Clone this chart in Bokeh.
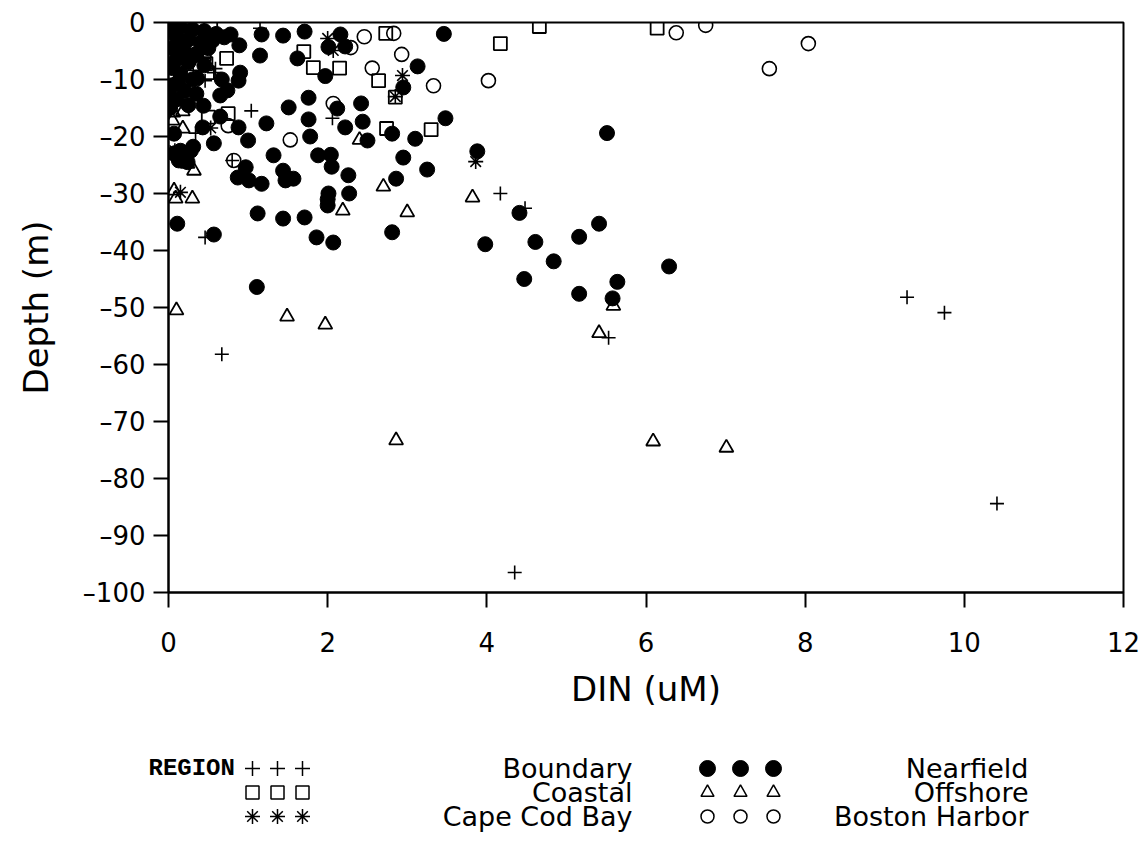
from bokeh.plotting import figure
from bokeh.layouts import column, row
from bokeh.models import Range1d, FixedTicker
from bokeh.core.properties import value
from bokeh.embed import file_html
from bokeh.resources import INLINE

# ---------------- data (DIN uM, depth m) ----------------
boundary_x = [1.15, 0.44, 0.57, 0.31, 0.46, 1.04, 2.06, 0.34, 0.80, 0.06, 4.17, 4.48, 0.46, 0.67, 5.53, 4.35, 9.28, 9.75, 10.41, 0.59]
boundary_y = [-1.0, -6.3, -8.8, -8.4, -10.2, -15.5, -16.8, -19.4, -24.2, -22.8, -30.0, -32.6, -37.7, -58.2, -55.3, -96.5, -48.2, -50.9, -84.4, -8.1]

coastal_x = [0.53, 0.73, 0.49, 0.50, 0.75, 1.70, 1.82, 2.15, 2.73, 2.64, 2.85, 2.74, 3.30, 4.17, 4.66, 6.14, 0.02, 0.45, 0.47, 0.10]
coastal_y = [-0.6, -6.3, -8.8, -16.6, -16.0, -5.1, -7.9, -8.0, -1.9, -10.2, -13.1, -18.6, -18.8, -3.7, -0.7, -1.0, -6.0, -5.5, -7.2, -12.0]

capecod_x = [2.00, 2.07, 2.94, 2.85, 3.86, 0.53, 0.15, 0.08]
capecod_y = [-2.8, -4.9, -9.3, -13.0, -24.4, -18.5, -29.8, -22.5]

harbor_x = [6.38, 6.75, 8.04, 7.55, 4.02, 2.83, 2.29, 2.46, 2.93, 2.56, 3.33, 2.07, 1.53, 0.82, 0.75]
harbor_y = [-1.8, -0.5, -3.7, -8.1, -10.2, -1.9, -4.4, -2.5, -5.6, -8.0, -11.1, -14.2, -20.6, -24.2, -18.1]

offshore_x = [0.10, 1.49, 1.97, 2.86, 6.09, 7.01, 5.59, 5.41, 3.82, 3.00, 2.19, 2.70, 2.40, 0.09, 0.30, 0.07, 0.05, 0.18, 0.18, 0.06, 0.32, 0.24]
offshore_y = [-50.5, -51.6, -53.0, -73.3, -73.5, -74.6, -49.7, -54.5, -30.7, -33.3, -33.0, -28.8, -20.6, -30.9, -30.9, -29.5, -17.2, -18.6, -15.6, -15.8, -26.0, -24.8]

nearfield_x = [0.78, 0.89, 1.17, 1.15, 1.44, 1.71, 2.16, 2.01, 2.22, 1.62, 1.97, 3.46, 3.13, 2.95, 3.48,
               0.90, 0.88, 0.67, 0.36, 0.74, 0.65, 0.44, 0.65, 0.88, 0.43, 0.57, 1.00, 1.23, 1.51, 1.76,
               1.76, 1.78, 2.12, 2.22, 2.42, 2.44, 2.50, 2.81, 3.10, 2.95, 3.25, 2.86, 2.26, 2.27, 2.01,
               1.88, 2.04, 2.05, 1.32, 1.44, 1.57, 1.47, 1.17, 1.01, 0.87, 0.97, 0.15, 0.28, 0.31, 0.13,
               0.24, 0.11, 0.57, 1.12, 1.44, 1.71, 2.00, 2.00, 1.86, 2.07, 2.81, 1.11,
               4.41, 3.98, 4.61, 5.16, 5.41, 4.84, 4.47, 5.16, 5.64, 5.58, 6.29, 5.51, 3.88, 0.07, 0.07,
               0.05, 0.15, 0.30, 0.45, 0.60, 0.10, 0.25, 0.40, 0.05, 0.20, 0.35, 0.50, 0.10, 0.25, 0.05,
               0.15, 0.30, 0.05, 0.20, 0.35, 0.10, 0.25, 0.02, 0.55, 0.70, 0.12, 0.00, 0.45, 0.30, 0.18]
nearfield_y = [-2.1, -4.0, -2.1, -5.8, -2.3, -1.6, -2.1, -4.3, -4.2, -6.3, -9.4, -2.0, -7.7, -11.4, -16.8,
               -8.8, -10.2, -10.0, -9.8, -11.9, -12.8, -14.6, -16.5, -18.4, -18.4, -21.2, -20.7, -17.7, -14.9, -13.2,
               -17.0, -20.0, -15.1, -18.4, -14.2, -17.4, -20.7, -19.5, -20.4, -23.7, -25.8, -27.4, -26.8, -30.0, -30.0,
               -23.3, -23.2, -25.3, -23.3, -26.0, -27.4, -27.7, -28.3, -27.7, -27.2, -25.4, -22.5, -22.5, -21.8, -24.2,
               -24.5, -35.3, -37.2, -33.5, -34.4, -34.2, -32.1, -31.0, -37.7, -38.6, -36.8, -46.4,
               -33.4, -38.9, -38.5, -37.6, -35.3, -41.9, -45.0, -47.6, -45.5, -48.4, -42.8, -19.4, -22.6, -19.5, -23.0,
               -1.0, -0.8, -1.2, -1.5, -2.0, -2.5, -3.0, -3.5, -4.5, -5.0, -5.5, -4.5, -6.5, -7.0, -8.0,
               -9.0, -10.0, -11.0, -12.0, -12.5, -13.5, -14.5, -15.0, -3.2, -2.6, -10.5, -12.5, -7.5, -6.0, -3.8]

x_ticks = [0, 2, 4, 6, 8, 10, 12]
y_ticks = [0, -10, -20, -30, -40, -50, -60, -70, -80, -90, -100]

legend_left = ["Boundary", "Coastal", "Cape Cod Bay"]
legend_right = ["Nearfield", "Offshore", "Boston Harbor"]

FONT = "DejaVu Sans"
L, R = 168, 25

# ---------------- main plot ----------------
p = figure(width=1148, height=720, output_backend="svg", toolbar_location=None,
           x_range=Range1d(0, 12), y_range=Range1d(-100, 0),
           min_border_left=L, min_border_right=R, min_border_top=22, min_border_bottom=128)
p.grid.visible = False
p.outline_line_color = "black"
p.outline_line_width = 2

for ax in (p.xaxis[0], p.yaxis[0]):
    ax.axis_line_width = 2
    ax.major_tick_line_width = 2
    ax.major_tick_out = 15
    ax.major_tick_in = 0
    ax.minor_tick_line_color = None
    ax.major_label_text_font = FONT
    ax.major_label_text_font_size = "26px"
    ax.major_label_text_color = "black"
    ax.axis_label_text_font = FONT
    ax.axis_label_text_font_size = "34px"
    ax.axis_label_text_font_style = "normal"
    ax.axis_label_text_color = "black"

p.xaxis.ticker = FixedTicker(ticks=x_ticks)
p.yaxis.ticker = FixedTicker(ticks=y_ticks)
p.xaxis.major_label_overrides = {t: str(t) for t in x_ticks}
p.yaxis.major_label_overrides = {t: ("\u2013" + str(-t) if t < 0 else str(t)) for t in y_ticks}
p.xaxis.axis_label = "DIN (uM)"
p.yaxis.axis_label = "Depth (m)"
p.xaxis.major_label_standoff = 24
p.yaxis.major_label_standoff = 8
p.xaxis.axis_label_standoff = 14
p.yaxis.axis_label_standoff = 24

p.scatter(nearfield_x, nearfield_y, marker="circle", size=15, fill_color="black", line_color="black")
p.scatter(boundary_x, boundary_y, marker="cross", size=14, line_color="black", line_width=1.6)
p.scatter(coastal_x, coastal_y, marker="square", size=13, fill_alpha=0.0, line_color="black", line_width=1.8)
p.scatter(capecod_x, capecod_y, marker="asterisk", size=15, line_color="black", line_width=1.6)
p.scatter(harbor_x, harbor_y, marker="circle", size=14, fill_alpha=0.0, line_color="black", line_width=1.6)
p.scatter(offshore_x, offshore_y, marker="triangle", size=14, fill_alpha=0.0, line_color="black", line_width=1.8)

# ---------------- legend panel (x in page pixels) ----------------
lg = figure(width=1148, height=131, output_backend="svg", toolbar_location=None,
            x_range=Range1d(0, 1148), y_range=Range1d(131, 0),
            min_border=0)
lg.axis.visible = False
lg.grid.visible = False
lg.outline_line_color = None

rows = [48, 72, 96]
lg.text(x=[148], y=[rows[0]], text=["REGION"], text_font=value("Liberation Mono"),
        text_font_style="bold", text_font_size="24px", text_baseline="middle", text_align="left")

sym_left = [252, 277, 302]
sym_right = [707, 740, 773]
left_markers = ["cross", "square", "asterisk"]
right_markers = ["circle_filled", "triangle", "circle"]
for i, m in enumerate(left_markers):
    lg.scatter(sym_left, [rows[i]] * 3, marker=m, size=15 if m != "square" else 13,
               fill_alpha=0.0, line_color="black", line_width=1.5)
for i, m in enumerate(right_markers):
    if m == "circle_filled":
        lg.scatter(sym_right, [rows[i]] * 3, marker="circle", size=16, fill_color="black", line_color="black")
    else:
        lg.scatter(sym_right, [rows[i]] * 3, marker=m, size=13, fill_alpha=0.0,
                   line_color="black", line_width=1.5)

lg.text(x=[632] * 3, y=rows, text=legend_left, text_font=value(FONT), text_font_size="27px",
        text_baseline="middle", text_align="right", text_color="black")
lg.text(x=[1028] * 3, y=rows, text=legend_right, text_font=value(FONT), text_font_size="27px",
        text_baseline="middle", text_align="right", text_color="black")

layout = column(p, row(lg), spacing=0)
open("out.html", "w").write(file_html(layout, INLINE))
